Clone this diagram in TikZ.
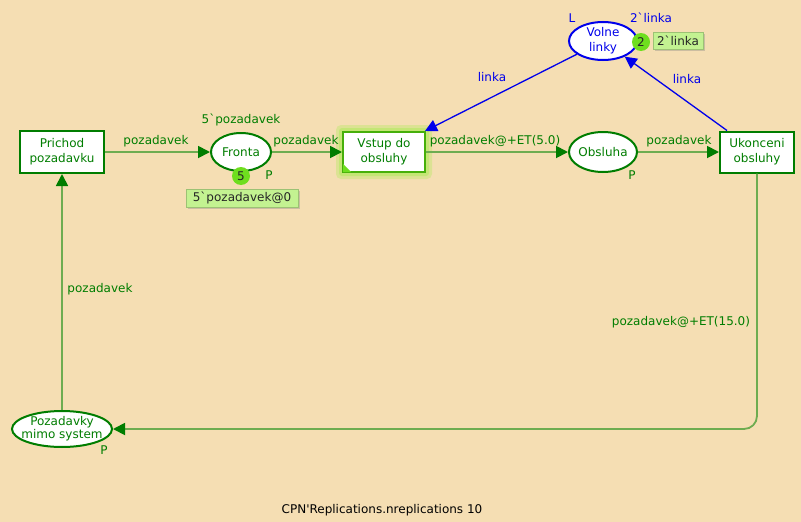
\documentclass[tikz,border=0pt]{standalone}
\usepackage{fontspec}
\setmainfont{DejaVu Sans}[Ligatures=TeXOff]
\usetikzlibrary{arrows.meta,calc,shadows,shapes.geometric}
\definecolor{bg}{RGB}{245,222,179}
\definecolor{cpngreen}{RGB}{0,125,0}
\definecolor{arcgreen}{RGB}{110,172,80}
\definecolor{tokgreen}{RGB}{110,222,30}
\definecolor{tokbox}{RGB}{195,242,145}
\definecolor{cpnblue}{RGB}{0,0,235}
\definecolor{limeb}{RGB}{70,175,10}
\definecolor{glow}{RGB}{190,232,110}
\tikzset{
  base/.style={font=\fontsize{12}{15}\selectfont, align=center, inner sep=0pt},
  trans/.style={base, draw=cpngreen, line width=2pt, fill=white, text=cpngreen},
  place/.style={base, ellipse, inner xsep=-12pt, inner ysep=-4pt, draw=cpngreen, line width=2pt, fill=white, text=cpngreen},
  bplace/.style={place, draw=cpnblue, text=cpnblue},
  lbl/.style={font=\fontsize{12}{14}\selectfont, text=cpngreen, inner sep=0pt},
  blbl/.style={lbl, text=cpnblue},
  arc/.style={draw=arcgreen, line width=1.8pt, -{Triangle[length=12pt,width=12pt,color=cpngreen]}},
  barc/.style={draw=cpnblue, line width=1.3pt, -{Triangle[length=12pt,width=12pt,color=cpnblue]}},
  token/.style={circle, fill=tokgreen, minimum size=18pt, inner sep=0pt, font=\fontsize{12}{14}\selectfont, text=black!85},
  tbox/.style={fill=tokbox, draw=tokbox!80!black, line width=0.3pt, inner sep=0pt, font=\fontsize{12}{14}\selectfont, text=black!85,
    drop shadow={shadow xshift=1.5pt, shadow yshift=-1.5pt, opacity=0.35}}
}
\begin{document}
\begin{tikzpicture}[x=1pt,y=-1pt]
\fill[bg] (0,0) rectangle (801,522);
\useasboundingbox (0,0) rectangle (801,522);

% Vstup glow
\fill[glow, opacity=0.45, rounded corners=5pt] (336,125) rectangle (432,179);
\fill[glow, opacity=0.8, rounded corners=3pt] (339,128) rectangle (429,176);

% nodes
\node[trans, minimum width=84pt, minimum height=42pt] (prich) at (62,152) {Prichod\\pozadavku};
\node[place, minimum width=60pt, minimum height=38pt] (fronta) at (241,152) {Fronta};
\node[base, draw=limeb, line width=2pt, fill=white, text=cpngreen, minimum width=82pt, minimum height=40pt] (vstup) at (384,152) {Vstup do\\obsluhy};
\fill[tokgreen] (vstup.south west) ++(1,-1) -- ++(0,-8) -- ++(8,8) -- cycle;
\node[place, minimum width=68pt, minimum height=40pt] (obs) at (603,152) {Obsluha};
\node[trans, minimum width=74pt, minimum height=41pt] (ukon) at (757,152) {Ukonceni\\obsluhy};
\node[bplace, minimum width=68pt, minimum height=38pt] (volne) at (603,41) {Volne\\linky};
\node[place, minimum width=100pt, minimum height=36pt, font=\fontsize{12}{13}\selectfont] (mimo) at (62,429) {Pozadavky\\mimo system};

% arcs
\draw[arc] (prich) -- (fronta);
\draw[arc] (fronta) -- (vstup);
\draw[arc] (vstup) -- (obs);
\draw[arc] (obs) -- (ukon);
\draw[arc, rounded corners=13pt] (ukon.south) -- (ukon.south |- mimo.east) -- (mimo.east);
\draw[arc] (mimo.north) -- (prich.south);
\draw[barc] (volne) -- ([xshift=-1pt]vstup.north east);
\draw[barc] ([xshift=8pt]ukon.north west) -- (volne);

% labels
\node[lbl] (l1) at (156,141) {pozadavek};
\node[lbl] (l2) at (306,141) {pozadavek};
\node[lbl] (l3) at (495,141) {pozadavek@+ET(5.0)};
\node[lbl] (l4) at (679,141) {pozadavek};
\node[lbl] (l5) at (681,322) {pozadavek@+ET(15.0)};
\node[lbl] (l6) at (100,289) {pozadavek};
\node[lbl] (l7) at (241,120) {5`pozadavek};
\node[lbl] (p1) at (269,175) {P};
\node[lbl] (p2) at (632,175) {P};
\node[lbl] (p3) at (104,450) {P};
\node[blbl] (b1) at (492,77) {linka};
\node[blbl] (b2) at (687,79) {linka};
\node[blbl] (b3) at (572,18) {L};
\node[blbl] (b4) at (651,18) {2`linka};

% tokens
\node[tbox, minimum width=112pt, minimum height=18pt] (tb5) at (242,198) {5`pozadavek@0};
\node[token] (t5) at (241,176) {5};
\node[tbox, minimum width=50pt, minimum height=17pt] (tb2) at (678,41) {2`linka};
\node[token] (t2) at (641,42) {2};

\node[font=\fontsize{12}{14}\selectfont, text=black, inner sep=0pt] (foot) at (382,510) {CPN'Replications.nreplications 10};
\end{tikzpicture}
\end{document}
